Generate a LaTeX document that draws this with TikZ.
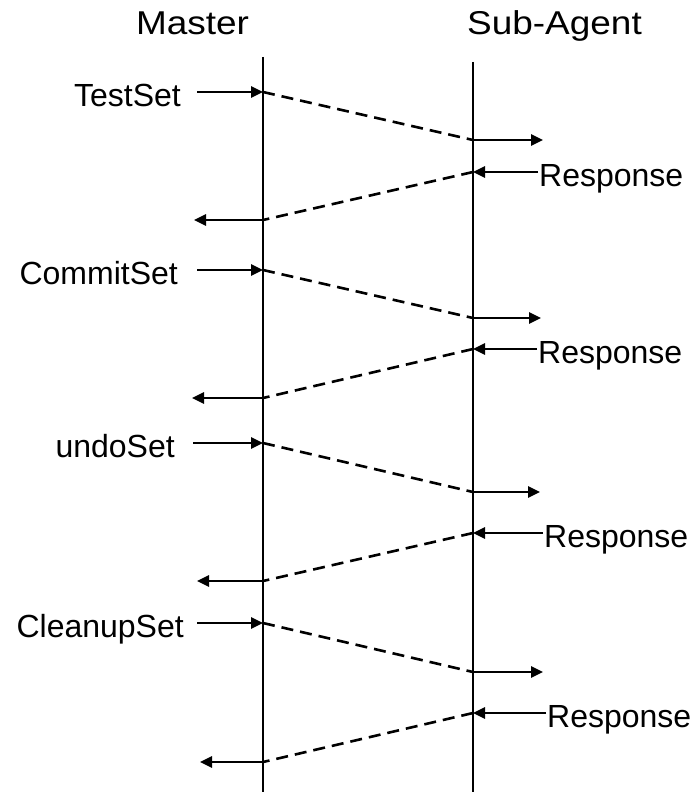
\documentclass[tikz,border=0pt]{standalone}
\usepackage{fontspec}
\setmainfont{Liberation Sans}
\newfontfamily\titlefont[FakeStretch=1.12]{Liberation Sans}
\usetikzlibrary{arrows.meta}
\begin{document}
\begin{tikzpicture}[x=1pt,y=-1pt,
  lifeline/.style={line width=2.6pt},
  msg/.style={line width=2.6pt,-{Triangle[length=12pt,width=11pt]}},
  dashmsg/.style={line width=2.6pt,dash pattern=on 12pt off 7pt},
  lbl/.style={inner sep=0pt,font=\fontsize{32}{38}\selectfont},
  ttl/.style={inner sep=0pt,font=\titlefont\fontsize{33}{40}\selectfont}]
\useasboundingbox (0,0) rectangle (699,792);
\node[ttl,anchor=base] (mt) at (192.5,35) {Master};
\node[ttl,anchor=base] (st) at (554.5,35) {Sub-Agent};
\coordinate (mtop) at (263,57);
\coordinate (mbot) at (263,792);
\coordinate (stop) at (473,62);
\coordinate (sbot) at (473,792);
\draw[lifeline] (mtop) -- (mbot);
\draw[lifeline] (stop) -- (sbot);
\foreach \i/\a/\b/\c/\d/\t/\tx/\sx/\ox/\rx/\bx in {
  1/92/140/172/220/TestSet/181/197/543/538/194,
  2/270/318/349/398/CommitSet/178/197/541/537/192,
  3/443/492/533/581/undoSet/175/193/540/543/197,
  4/623/672/713/762/CleanupSet/184/197/543/546/200}{
  \coordinate (ma\i) at (263,\a);
  \node[lbl,anchor=base east] (l\i) at (\tx,\a+14) {\t};
  \coordinate (ls\i) at (\sx,\a);
  \draw[msg] (ls\i) -- (ma\i);
  \coordinate (sb\i) at (473,\b);
  \draw[dashmsg] (ma\i) -- (sb\i);
  \coordinate (ob\i) at (\ox,\b);
  \draw[msg] (sb\i) -- (ob\i);
  \node[lbl,anchor=base west] (r\i) at (\rx+1,\c+14) {Response};
  \coordinate (rs\i) at (\rx,\c);
  \coordinate (sc\i) at (473,\c);
  \draw[msg] (rs\i) -- (sc\i);
  \coordinate (md\i) at (263,\d);
  \draw[dashmsg] (sc\i) -- (md\i);
  \coordinate (bt\i) at (\bx,\d);
  \draw[msg] (md\i) -- (bt\i);
}
\end{tikzpicture}
\end{document}
